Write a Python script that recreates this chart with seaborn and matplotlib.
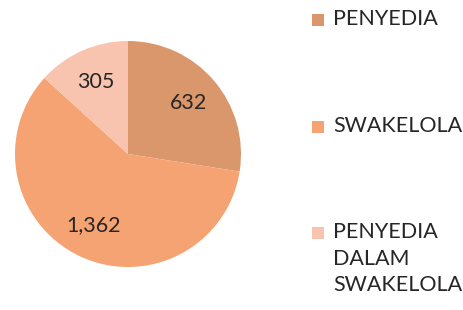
import matplotlib
matplotlib.use("Agg")
import matplotlib.pyplot as plt
import seaborn as sns
from matplotlib.patches import Rectangle

categories = ["PENYEDIA", "SWAKELOLA", "PENYEDIA\nDALAM\nSWAKELOLA"]
values = [632, 1362, 305]
value_labels = ["632", "1,362", "305"]
colors = ["#DA976C", "#F5A372", "#F8C4AF"]

sns.set_theme(style="white")
plt.rcParams['font.family'] = ['Lato', 'DejaVu Sans']
palette = sns.color_palette(colors)

W, H = 464, 310
fig = plt.figure(figsize=(W / 100, H / 100), dpi=100)
fig.patch.set_facecolor("white")

cx, cy, r = 128, 154, 113
ax = fig.add_axes([(cx - r) / W, (H - cy - r) / H, 2 * r / W, 2 * r / H])

label_iter = iter(value_labels)
wedges, texts, autotexts = ax.pie(
    values, colors=palette, startangle=90, counterclock=False,
    autopct=lambda p: next(label_iter), pctdistance=0.7,
    wedgeprops=dict(linewidth=0),
    textprops=dict(fontsize=15.5, color="#262626"))
ax.set_xlim(-1, 1)
ax.set_ylim(-1, 1)
ax.set_aspect("auto")
ax.axis("off")

# legend drawn manually to match layout
text_ys = [20, 127, 233]
sq = 12
for cat, col, ty in zip(categories, colors, text_ys):
    fig.patches.append(Rectangle(((312) / W, (H - ty - sq / 2) / H), sq / W, sq / H,
                                 transform=fig.transFigure, facecolor=col,
                                 edgecolor="none"))
    fig.text(333 / W, (H - ty + 11) / H, cat, ha="left", va="top",
             fontsize=15.5, color="#262626", linespacing=1.42)

fig.savefig("out.png", dpi=100, facecolor="white")
